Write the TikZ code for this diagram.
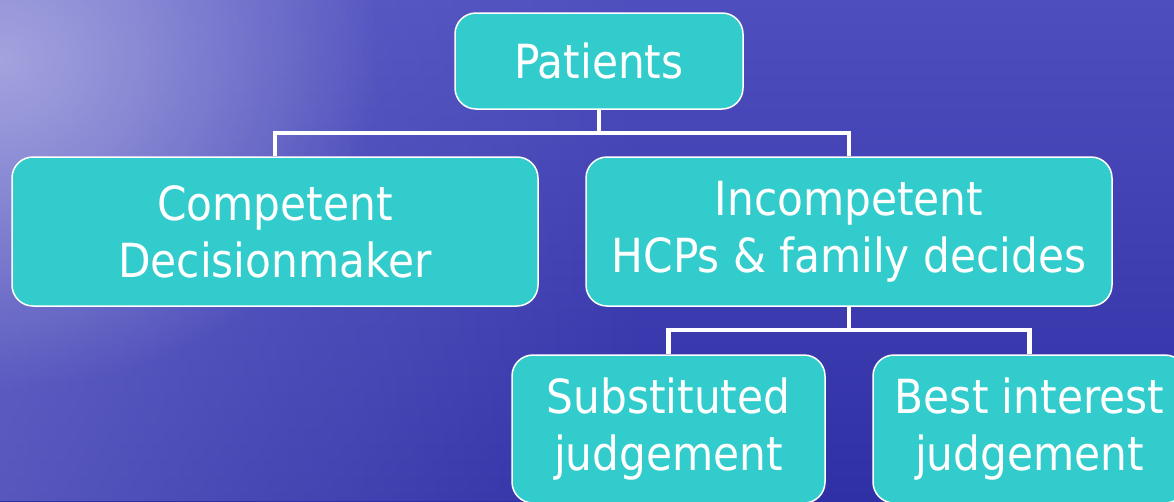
\documentclass[tikz,border=0pt]{standalone}
\usepackage{fontspec}
\setmainfont{DejaVu Sans Condensed}
\usetikzlibrary{fadings}
\definecolor{boxfill}{RGB}{51,204,204}
\definecolor{bgtop}{RGB}{78,78,190}
\definecolor{bgbot}{RGB}{48,48,166}
\definecolor{bgmid}{RGB}{120,120,210}
\definecolor{bglight}{RGB}{170,170,225}
\tikzfading[name=faderight, left color=transparent!0, right color=transparent!100]
\tikzfading[name=glowfade, inner color=transparent!0, outer color=transparent!100]
\begin{document}
\begin{tikzpicture}[x=1pt,y=-1pt,
  box/.style={draw=white, line width=1.5pt, fill=boxfill, rounded corners=21pt,
    text=white, align=center, font=\fontsize{47}{57}\selectfont, inner sep=0pt},
  link/.style={draw=white, line width=4.5pt, line join=miter}]
\useasboundingbox (0,0) rectangle (1174,501);
\clip (0,0) rectangle (1174,501);
% background
\shade[top color=bgtop, bottom color=bgbot] (0,0) rectangle (1174,501);
\fill[bgmid, path fading=faderight, fill opacity=0.55] (0,0) rectangle (650,501);
\fill[bglight, path fading=glowfade, fill opacity=0.9] (0,60) ellipse [x radius=380pt, y radius=330pt];
% nodes
\node[box, minimum width=288pt, minimum height=96pt] (pat) at (599,61) {Patients};
\node[box, minimum width=526pt, minimum height=149pt] (comp) at (275,231.5) {Competent\\Decisionmaker};
\node[box, minimum width=526pt, minimum height=149pt] (inc) at (849,231.5) {Incompetent\\HCPs \& family decides};
\node[box, minimum width=313pt, minimum height=148pt] (sub) at (668.5,429) {Substituted\\judgement};
\node[box, minimum width=313pt, minimum height=148pt] (best) at (1029.5,429) {Best interest\\judgement};
% connectors
\coordinate (j1) at (599,133);
\coordinate (j2) at (849,330);
\draw[link] (pat.south) -- (j1);
\draw[link] (comp.north) |- (j1) -| (inc.north);
\draw[link] (inc.south) -- (j2);
\draw[link] (sub.north) |- (j2) -| (best.north);
\end{tikzpicture}
\end{document}
